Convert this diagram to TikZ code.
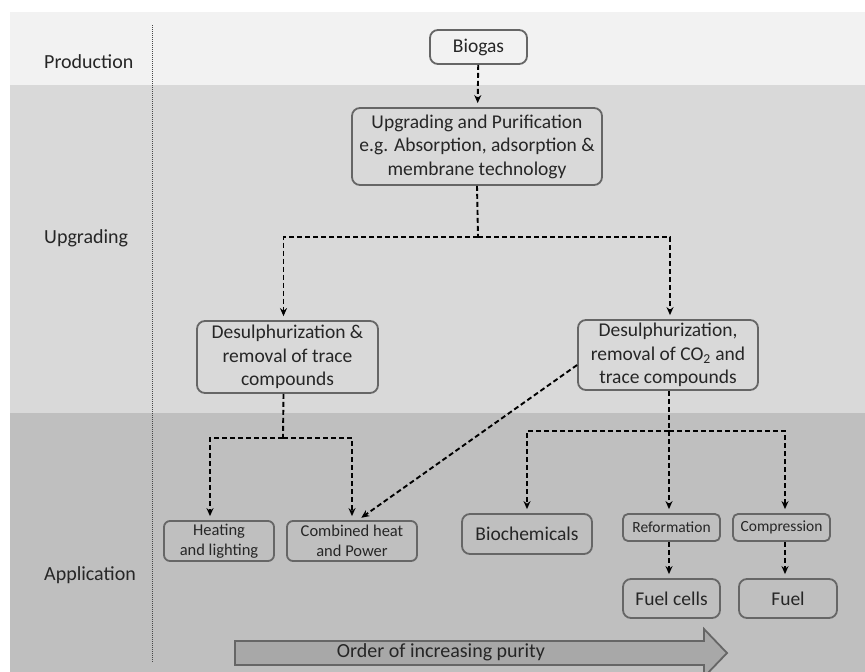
\documentclass[tikz,border=0pt]{standalone}
\usepackage{fontspec}
\setmainfont{Carlito}
\usepackage{tikz}
\usetikzlibrary{arrows.meta,positioning}
\definecolor{bandtop}{HTML}{F2F2F2}
\definecolor{bandmid}{HTML}{D9D9D9}
\definecolor{bandlow}{HTML}{BFBFBF}
\definecolor{boxline}{HTML}{666666}
\definecolor{inktext}{HTML}{262626}
\definecolor{purityfill}{HTML}{A8A8A8}

\begin{document}
\begin{tikzpicture}[x=1pt,y=-1pt,
  stage/.style={draw=boxline,rectangle,rounded corners=8pt,line width=1.8pt,align=center,text=inktext,font=\fontsize{19.5}{23.5}\selectfont,inner sep=1pt},
  smallstage/.style={stage,rounded corners=6pt,font=\fontsize{16.5}{19.5}\selectfont},
  tinystage/.style={stage,rounded corners=5pt,font=\fontsize{15.5}{18}\selectfont},
  phase/.style={anchor=west,text=inktext,font=\fontsize{20}{24}\selectfont,inner sep=0pt},
  link/.style={line width=1.9pt,dash pattern=on 5pt off 3pt},
  arr/.style={link,-{Stealth[length=8pt,width=7pt]},shorten >=4pt}
]
\useasboundingbox (0,0) rectangle (865,672);

% Bands
\fill[bandtop] (10,12) rectangle (865,85);
\fill[bandmid] (10,85) rectangle (865,413);
\fill[bandlow] (10,413) rectangle (865,672);
\draw[boxline!70!black,line width=1pt,dash pattern=on 1pt off 1pt] (152,25) -- (152,663);

% Phase labels
\node[phase] (lprod) at (44,62) {Production};
\node[phase] (lupg) at (44,238) {Upgrading};
\node[phase] (lapp) at (44,575) {Application};

% Production and upgrading
\node[stage,minimum width=97pt,minimum height=34pt] (biogas) at (478.5,47) {Biogas};
\node[stage,minimum width=250pt,minimum height=77pt] (upgrade) at (477,146.5) {Upgrading and Purification\\e.g. Absorption, adsorption \&\\membrane technology};
\node[stage,minimum width=181pt,minimum height=72pt] (desulA) at (287.5,357) {Desulphurization \&\\removal of trace\\compounds};
\node[stage,minimum width=180pt,minimum height=70pt] (desulB) at (668,355) {Desulphurization,\\removal of CO\textsubscript{2} and\\trace compounds};

% Applications
\node[smallstage,minimum width=110pt,minimum height=40pt] (heat) at (219,541) {Heating\\and lighting};
\node[smallstage,minimum width=130pt,minimum height=40pt] (chp) at (352,541) {Combined heat\\and Power};
\node[stage,minimum width=130pt,minimum height=40pt] (biochem) at (527,534) {Biochemicals};
\node[tinystage,minimum width=97pt,minimum height=27pt] (reform) at (671.5,527.5) {Reformation};
\node[tinystage,minimum width=97pt,minimum height=27pt] (compress) at (781.5,527.5) {Compression};
\node[stage,minimum width=97pt,minimum height=39pt] (fuelcell) at (671.5,598.5) {Fuel cells};
\node[stage,minimum width=98pt,minimum height=39pt] (fuel) at (788,598.5) {Fuel};

% Purity arrow
\fill[purityfill,draw=boxline,line width=1.8pt] (235,641) -- (704,641) -- (704,629) -- (727,653) -- (704,677) -- (704,665) -- (235,665) -- cycle;
\node[text=inktext,font=\fontsize{20}{24}\selectfont,inner sep=0pt] (purity) at (441,652) {Order of increasing purity};

% Arrows
\draw[arr] (biogas) -- (upgrade);
\draw[link] (upgrade.south) -- (478,237) coordinate (splitup);
\draw[arr] (splitup) -| ([xshift=-4pt]desulA.north);
\draw[arr] (splitup) -| ([xshift=2pt]desulB.north);

\draw[link] ([xshift=-4pt]desulA.south) -- (283,438) coordinate (splitA);
\draw[arr] (splitA) -| ([xshift=-9pt]heat.north);
\draw[arr] (splitA) -| (chp.north);
\draw[arr] ([yshift=-10pt]desulB.west) -- ([xshift=6pt]chp.north);

\draw[link] ([xshift=1pt]desulB.south) -- (669,431) coordinate (splitB);
\draw[arr] (splitB) -| (biochem.north);
\draw[arr] (splitB) -| ([xshift=-2.5pt]reform.north);
\draw[arr] (splitB) -| ([xshift=3.5pt]compress.north);
\draw[arr] ([xshift=-2.5pt]reform.south) -- ([xshift=-2.5pt]fuelcell.north);
\draw[arr] ([xshift=3.5pt]compress.south) -- ([xshift=-3pt]fuel.north);

\end{tikzpicture}
\end{document}
